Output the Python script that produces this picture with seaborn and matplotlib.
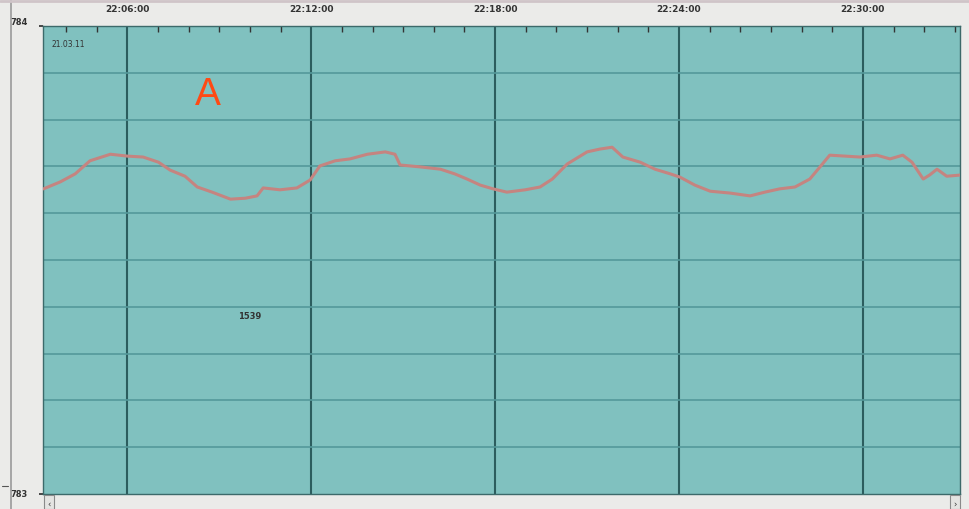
import matplotlib
matplotlib.use("Agg")
import matplotlib.pyplot as plt
import matplotlib.dates as mdates
from matplotlib.lines import Line2D
from matplotlib.patches import Rectangle
import numpy as np
import pandas as pd
import seaborn as sns

# --- data -------------------------------------------------------------
date_label = "21.03.11"
marker_label = "1539"
panel_letter = "A"

times = [
    "22:03:16", "22:03:49", "22:04:18", "22:04:47", "22:05:27", "22:06:00",
    "22:06:31", "22:07:01", "22:07:24", "22:07:53", "22:08:17", "22:08:46",
    "22:09:22", "22:09:51", "22:10:14", "22:10:26", "22:10:59", "22:11:32",
    "22:11:58", "22:12:17", "22:12:47", "22:13:16", "22:13:50", "22:14:25",
    "22:14:44", "22:14:54", "22:15:33", "22:16:13", "22:16:41", "22:17:05",
    "22:17:31", "22:17:56", "22:18:23", "22:18:59", "22:19:28", "22:19:52",
    "22:20:21", "22:21:00", "22:21:25", "22:21:49", "22:22:10", "22:22:44",
    "22:23:13", "22:23:43", "22:24:02", "22:24:31", "22:25:01", "22:25:40",
    "22:26:19", "22:26:48", "22:27:17", "22:27:47", "22:28:16", "22:28:36",
    "22:28:55", "22:29:25", "22:29:54", "22:30:27", "22:30:53", "22:31:18",
    "22:31:36", "22:31:58", "22:32:11", "22:32:25", "22:32:44", "22:33:16",
]
values = [
    783.652, 783.667, 783.684, 783.712, 783.726, 783.722,
    783.720, 783.709, 783.692, 783.679, 783.656, 783.645,
    783.630, 783.632, 783.637, 783.654, 783.650, 783.654,
    783.671, 783.701, 783.712, 783.716, 783.726, 783.731,
    783.726, 783.703, 783.699, 783.694, 783.684, 783.673,
    783.660, 783.652, 783.645, 783.650, 783.656, 783.673,
    783.705, 783.731, 783.737, 783.741, 783.720, 783.709,
    783.694, 783.684, 783.677, 783.660, 783.647, 783.643,
    783.637, 783.645, 783.652, 783.656, 783.673, 783.699,
    783.724, 783.722, 783.720, 783.724, 783.716, 783.724,
    783.709, 783.673, 783.682, 783.694, 783.679, 783.682,
]
y_ticks = [783, 784]
y_tick_labels = ["783", "784"]

day = "2011-03-21 "
df = pd.DataFrame({"time": pd.to_datetime([day + t for t in times]),
                   "value": values})

# --- style ------------------------------------------------------------
sns.set_theme(style="white")
plt.rcParams["font.family"] = ["DejaVu Sans"]

BG_FIG = "#ebebe9"
BG_AX = "#80c1bf"
GRID_H = "#54999a"
GRID_V = "#2c5d5e"
TRACE = "#c58480"
INK = "#333333"

W, H = 970, 510
fig = plt.figure(figsize=(W / 100, H / 100), dpi=100, facecolor=BG_FIG)
L, R, T, B = 43, 960, 27, 495
ax = fig.add_axes([L / W, (H - B) / H, (R - L) / W, (B - T) / H])
ax.set_facecolor(BG_AX)

sns.lineplot(data=df, x="time", y="value", ax=ax, color=TRACE,
             linewidth=2.2, zorder=5)

x0 = pd.Timestamp(day + "22:03:15")
x1 = pd.Timestamp(day + "22:33:10")
ax.set_xlim(x0, x1)
ax.set_ylim(783, 784)

# horizontal divisions every 0.1
for yv in np.arange(783.1, 784.0, 0.1):
    ax.axhline(yv, color=GRID_H, linewidth=1.2, zorder=1)

# x axis on top: major every 6 minutes, minor each minute
ax.xaxis.tick_top()
ax.xaxis.set_major_locator(mdates.MinuteLocator(byminute=range(0, 60, 6)))
ax.xaxis.set_minor_locator(mdates.MinuteLocator())
ax.xaxis.set_major_formatter(mdates.DateFormatter("%H:%M:%S"))
ax.grid(True, axis="x", which="major", color=GRID_V, linewidth=1.5, zorder=2)
ax.tick_params(axis="x", which="both", direction="in", top=True, bottom=False,
               colors=INK, labelsize=6.5, pad=9)
ax.tick_params(axis="x", which="major", length=0)
ax.tick_params(axis="x", which="minor", length=4, width=1.0)
for lbl in ax.get_xticklabels():
    lbl.set_fontweight("bold")
ax.set_xlabel("")
ax.set_ylabel("")

ax.set_yticks(y_ticks)
ax.set_yticklabels(y_tick_labels, fontsize=6, fontweight="bold", color=INK)
ax.tick_params(axis="y", which="both", length=3, direction="out", pad=8,
               left=True, colors=INK)
ax.get_yticklabels()[1].set_va("bottom")
ax.get_yticklabels()[0].set_va("center")

for sp in ax.spines.values():
    sp.set_color("#3c6a6a")
    sp.set_linewidth(1.0)

# annotations inside the plot
ax.text(pd.Timestamp(day + "22:04:05"), 783.962, date_label, fontsize=5.5,
        color=INK, ha="center", va="center", zorder=6)
ax.text(pd.Timestamp(day + "22:10:00"), 783.382, marker_label, fontsize=6,
        fontweight="bold", color=INK, ha="center", va="center", zorder=6)
ax.text(pd.Timestamp(day + "22:08:38"), 783.855, panel_letter, fontsize=28,
        color="#ff4a14", ha="center", va="center", zorder=6,
        family=["Liberation Sans", "DejaVu Sans"])

# window frame around the chart
fig.add_artist(Line2D([11 / W, 11 / W], [0, 1], color="#9a9a9a",
                      linewidth=1.2, transform=fig.transFigure))
fig.add_artist(Line2D([0, 1], [1 - 2 / H, 1 - 2 / H], color="#cfc4c8",
                      linewidth=2, transform=fig.transFigure))
fig.add_artist(Line2D([2 / W, 8 / W], [1 - 487 / H, 1 - 487 / H],
                      color="#555555", linewidth=0.8,
                      transform=fig.transFigure))
# scroll-bar buttons under the plot
for bx in (44, 950):
    fig.add_artist(Rectangle((bx / W, 0), 10 / W, 14 / H, facecolor="#e4e4e2",
                             edgecolor="#8a8a8a", linewidth=0.8,
                             transform=fig.transFigure))
fig.text(49 / W, 5 / H, "‹", fontsize=6, color=INK, ha="center", va="center")
fig.text(955 / W, 5 / H, "›", fontsize=6, color=INK, ha="center", va="center")

fig.savefig("out.png", dpi=100, facecolor=BG_FIG)
